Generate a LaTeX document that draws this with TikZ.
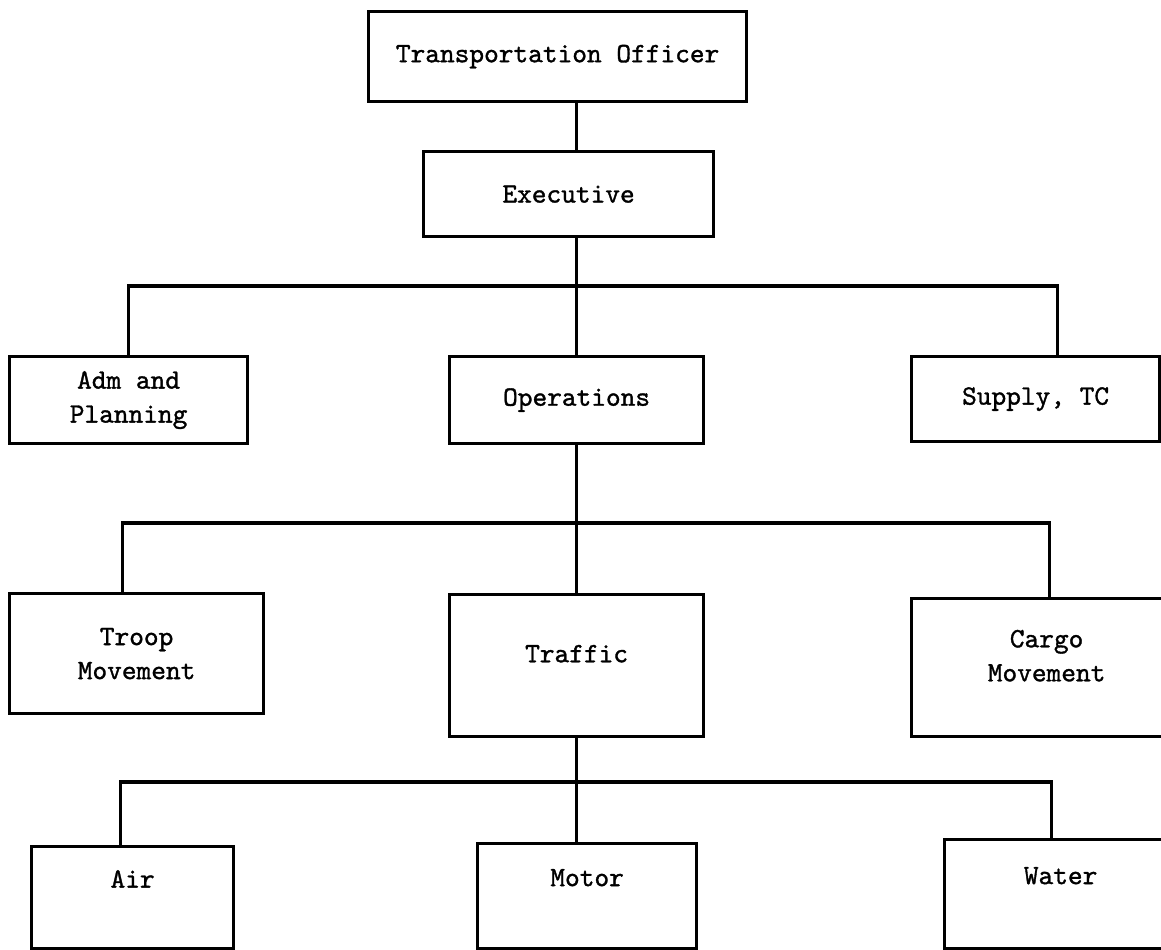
\documentclass[tikz,border=0pt]{standalone}
\usepackage{fontspec}
\newfontfamily\typefont{lmmono10-regular.otf}[FakeBold=1.2]
\usetikzlibrary{calc}
\tikzset{>=latex}
\begin{document}
\begin{tikzpicture}[x=0.5pt, y=-0.5pt,
    box/.style={rectangle, draw, line width=1.6pt, anchor=north west, align=center, inner sep=0pt,
      font=\typefont\fontsize{14}{17}\selectfont},
    boxsize/.style 2 args={minimum width=#1*0.5pt, minimum height=#2*0.5pt},
    raised/.style={text height=8pt, text depth=18pt},
    lifted/.style={text depth=12pt},
    link/.style={line width=1.6pt}
  ]
  \useasboundingbox (0,0) rectangle (1161,949);
  \clip (0,0) rectangle (1161,949);

  % Head of the office
  \node[box, boxsize={378}{90}] (officer) at (367,10) {Transportation Officer};
  \node[box, boxsize={290}{85}] (exec) at (422,150) {Executive};

  % First level
  \node[box, boxsize={238}{87}] (adm) at (8,355) {Adm and\\Planning};
  \node[box, boxsize={254}{87}] (ops) at (448,355) {Operations};
  \node[box, boxsize={248}{85}] (supply) at (910,355) {Supply, TC};

  % Second level
  \node[box, boxsize={254}{120}] (troop) at (8,592) {Troop\\Movement};
  \node[box, lifted, boxsize={254}{142}] (traffic) at (448,593) {Traffic};
  \node[box, lifted, boxsize={270}{138}] (cargo) at (910,597) {Cargo\\Movement};

  % Third level
  \node[box, raised, boxsize={202}{102}] (air) at (30,845) {Air};
  \node[box, raised, boxsize={219}{105}] (motor) at (476,842) {Motor};
  \node[box, raised, boxsize={232}{109}] (water) at (943,838) {Water};

  % Bus lines
  \coordinate (busA) at (575,286);
  \coordinate (busB) at (575,523);
  \coordinate (busC) at (575,782);

  % Connectors
  \draw[link] (officer.south -| ops.north) -- (exec.north -| ops.north);
  \draw[link] (exec.south -| ops.north) -- (ops.north);
  \draw[link] (adm.north) |- (busA) -| ($(supply.north)+(22,0)$);
  \draw[link] (ops.south) -- (traffic.north);
  \draw[link] ($(troop.north)+(-14,0)$) |- (busB) -| ($(cargo.north)+(3,0)$);
  \draw[link] (traffic.south) -- (traffic.south |- motor.north);
  \draw[link] ($(air.north)+(-12,0)$) |- (busC) -| ($(water.north)+(-9,0)$);
\end{tikzpicture}
\end{document}
